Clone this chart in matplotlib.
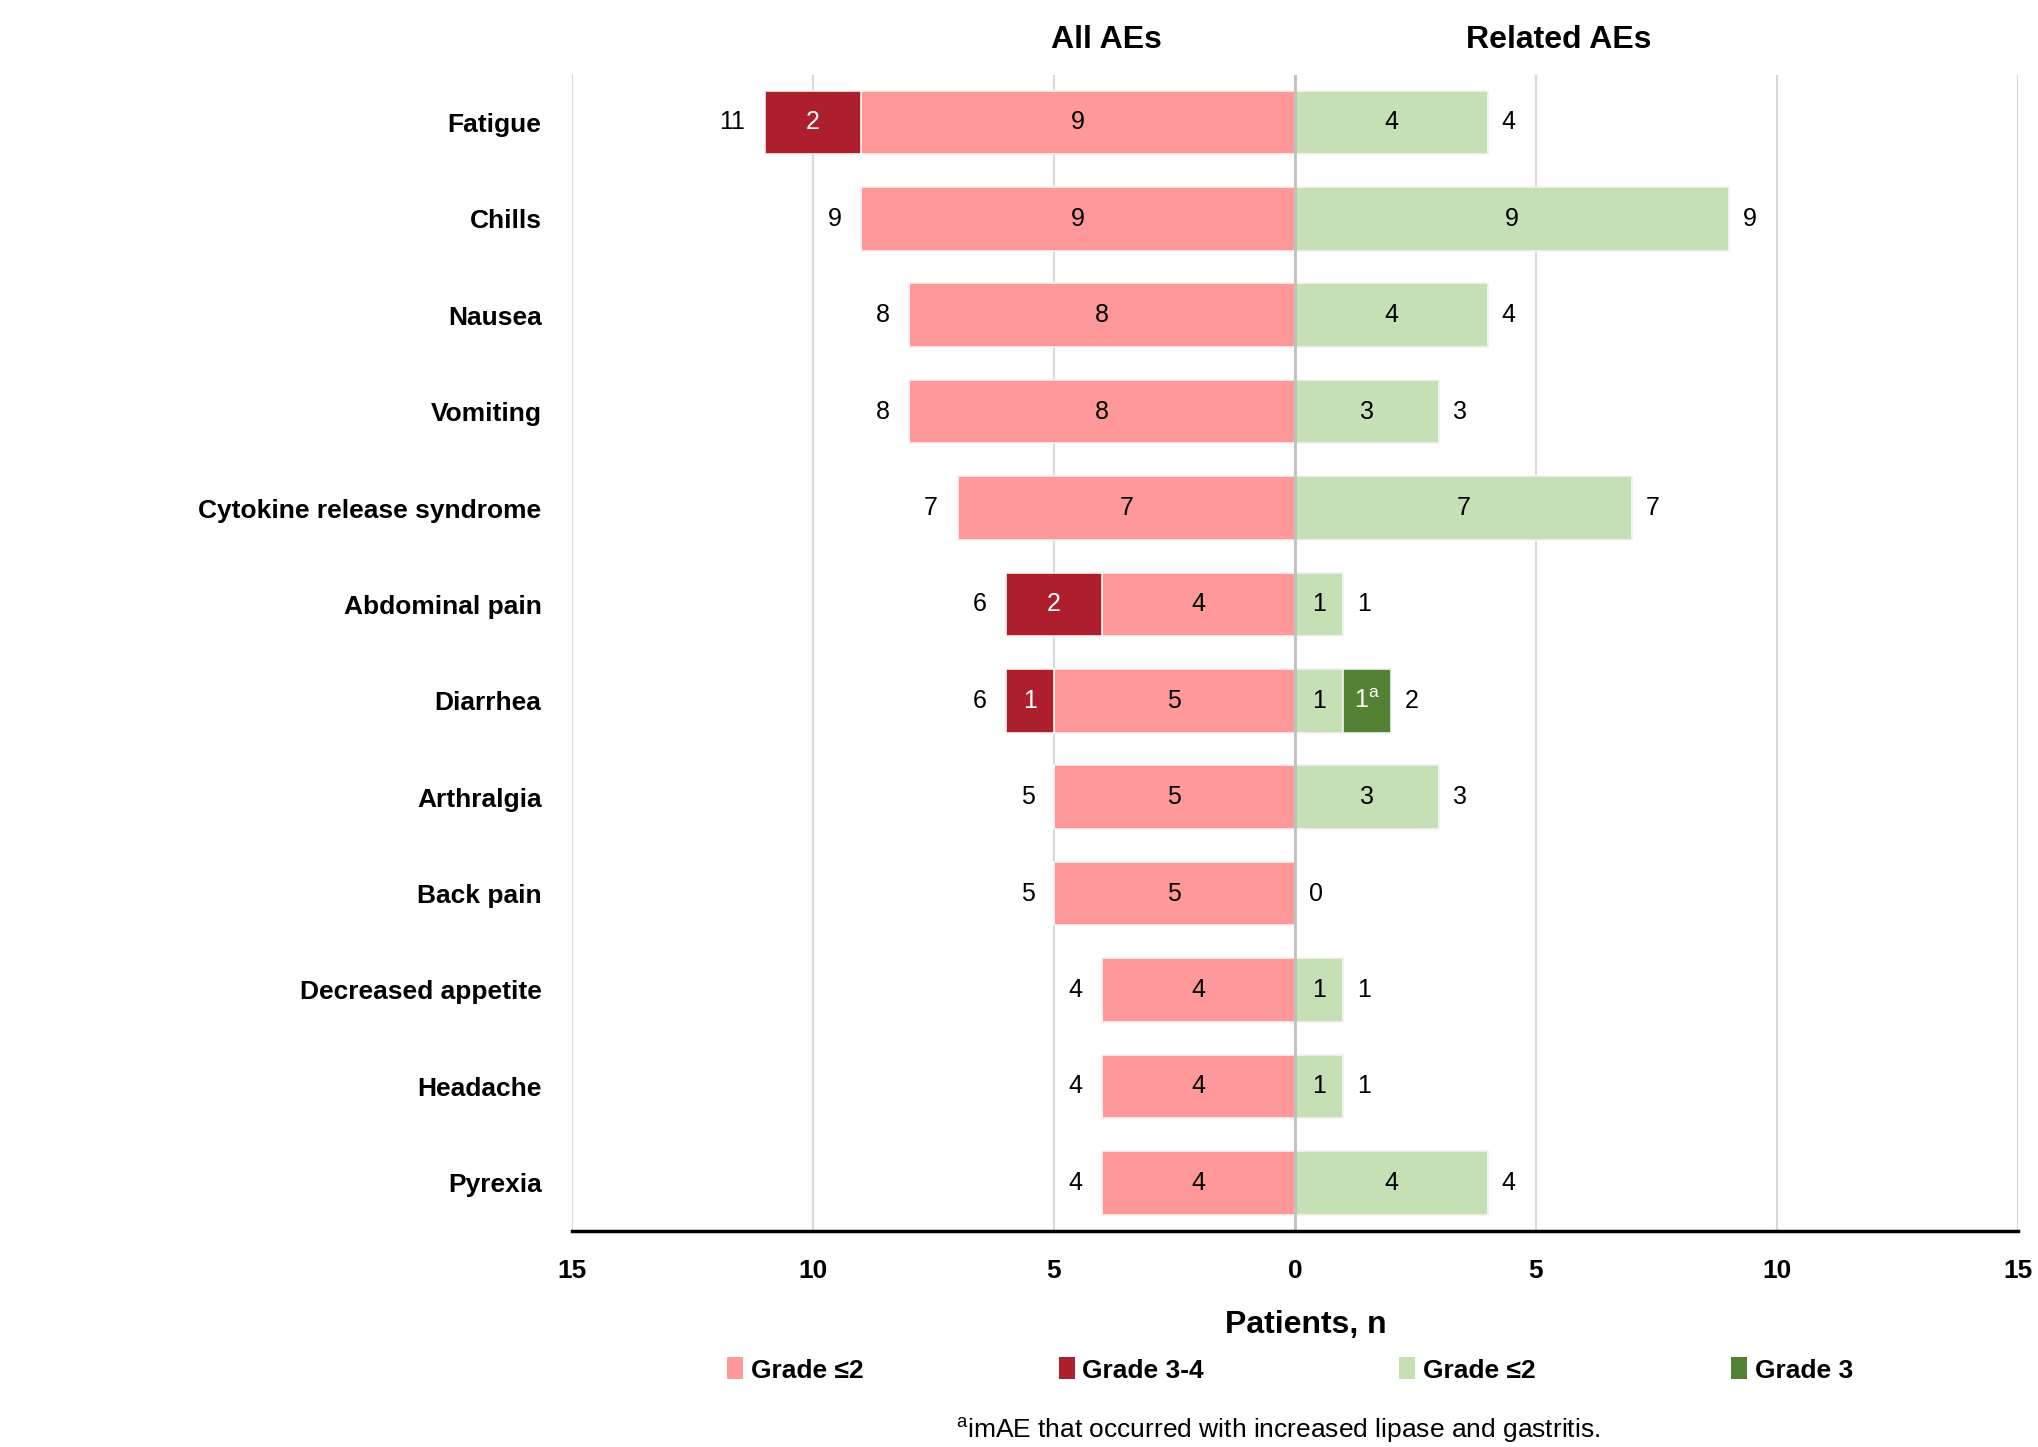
import matplotlib

matplotlib.use("Agg")
import matplotlib.pyplot as plt
from matplotlib import font_manager
from matplotlib.patches import Patch
import numpy as np

# pick a narrow sans if available
_names = {f.name for f in font_manager.fontManager.ttflist}
FONT = "Liberation Sans Narrow" if "Liberation Sans Narrow" in _names else "Liberation Sans"
plt.rcParams["font.family"] = [FONT, "DejaVu Sans"]
plt.rcParams["mathtext.fontset"] = "custom"
plt.rcParams["mathtext.rm"] = FONT

CATEGORIES = [
    "Fatigue", "Chills", "Nausea", "Vomiting", "Cytokine release syndrome",
    "Abdominal pain", "Diarrhea", "Arthralgia", "Back pain",
    "Decreased appetite", "Headache", "Pyrexia",
]
ALL_LOW = [9, 9, 8, 8, 7, 4, 5, 5, 5, 4, 4, 4]     # all AEs, grade <=2
ALL_HIGH = [2, 0, 0, 0, 0, 2, 1, 0, 0, 0, 0, 0]    # all AEs, grade 3-4
REL_LOW = [4, 9, 4, 3, 7, 1, 1, 3, 0, 1, 1, 4]     # related AEs, grade <=2
REL_HIGH = [0, 0, 0, 0, 0, 0, 1, 0, 0, 0, 0, 0]    # related AEs, grade 3
XTICKS = [-15, -10, -5, 0, 5, 10, 15]

C_PINK = "#FF9999"
C_DRED = "#AE1F2E"
C_LGRN = "#C5E0B4"
C_DGRN = "#548235"

all_low = np.array(ALL_LOW)
all_high = np.array(ALL_HIGH)
rel_low = np.array(REL_LOW)
rel_high = np.array(REL_HIGH)
y = np.arange(len(CATEGORIES))

fig = plt.figure(figsize=(20.38, 14.47), dpi=100)
ax = fig.add_axes([0.2807, 0.1493, 0.7093, 0.7987])

H = 0.66
bar_kw = dict(height=H, edgecolor="#F2F2F2", linewidth=1.2, zorder=3)
ax.barh(y, -all_low, color=C_PINK, **bar_kw)
ax.barh(y, -all_high, left=-all_low, color=C_DRED, **bar_kw)
ax.barh(y, rel_low, color=C_LGRN, **bar_kw)
ax.barh(y, rel_high, left=rel_low, color=C_DGRN, **bar_kw)

fs_val = 18
for i in y:
    # segment labels
    if all_low[i]:
        ax.text(-all_low[i] / 2, i, str(all_low[i]), ha="center", va="center", fontsize=fs_val, zorder=4)
    if all_high[i]:
        ax.text(-all_low[i] - all_high[i] / 2, i, str(all_high[i]), ha="center", va="center",
                fontsize=fs_val, color="white", zorder=4)
    if rel_low[i]:
        ax.text(rel_low[i] / 2, i, str(rel_low[i]), ha="center", va="center", fontsize=fs_val, zorder=4)
    if rel_high[i]:
        ax.text(rel_low[i] + rel_high[i] / 2, i, str(rel_high[i]) + r"$^{\mathrm{a}}$", ha="center",
                va="center", fontsize=fs_val, color="white", zorder=4)
    # totals outside the bars
    tot_l = all_low[i] + all_high[i]
    tot_r = rel_low[i] + rel_high[i]
    ax.annotate(str(tot_l), (-tot_l, i), xytext=(-14, 0), textcoords="offset points",
                ha="right", va="center", fontsize=fs_val)
    ax.annotate(str(tot_r), (tot_r, i), xytext=(10, 0), textcoords="offset points",
                ha="left", va="center", fontsize=fs_val)

ax.set_xlim(-15, 15)
ax.set_ylim(11.5, -0.49)
ax.set_yticks(y)
ax.set_yticklabels(CATEGORIES, fontsize=19, fontweight="bold")
ax.tick_params(axis="y", length=0, pad=22)
ax.set_xticks(XTICKS)
ax.set_xticklabels([str(abs(v)) for v in XTICKS], fontsize=19, fontweight="bold")
ax.tick_params(axis="x", length=0, pad=20)

for v in XTICKS:
    if v == 0:
        ax.axvline(0, color="#BFBFBF", linewidth=2, zorder=4)
    else:
        ax.axvline(v, color="#D9D9D9", linewidth=1.5, zorder=1)

for side in ["top", "right", "left"]:
    ax.spines[side].set_visible(False)
ax.spines["bottom"].set_linewidth(2.5)
ax.spines["bottom"].set_color("black")
ax.spines["bottom"].set_zorder(5)

fig.text(1106 / 2038, 1 - 40 / 1447, "All AEs", ha="center", va="center", fontsize=23, fontweight="bold")
fig.text(1559 / 2038, 1 - 40 / 1447, "Related AEs", ha="center", va="center", fontsize=23, fontweight="bold")
fig.text(1306 / 2038, 1 - 1325 / 1447, "Patients, n", ha="center", va="center", fontsize=23, fontweight="bold")

handles = [
    Patch(facecolor=C_PINK, label="Grade \u22642"),
    Patch(facecolor=C_DRED, label="Grade 3-4"),
    Patch(facecolor=C_LGRN, label="Grade \u22642"),
    Patch(facecolor=C_DGRN, label="Grade 3"),
]
fig.legend(handles=handles, loc="center", bbox_to_anchor=(1290 / 2038, 1 - 1370 / 1447), ncol=4,
           frameon=False, handlelength=0.6, handleheight=0.9, handletextpad=0.3, columnspacing=7.4,
           prop={"size": 19, "weight": "bold"})

fig.text(1278 / 2038, 1 - 1430 / 1447, r"$^{\mathrm{a}}$imAE that occurred with increased lipase and gastritis.",
         ha="center", va="center", fontsize=19)

fig.savefig("out.png", dpi=100)
plt.close(fig)
